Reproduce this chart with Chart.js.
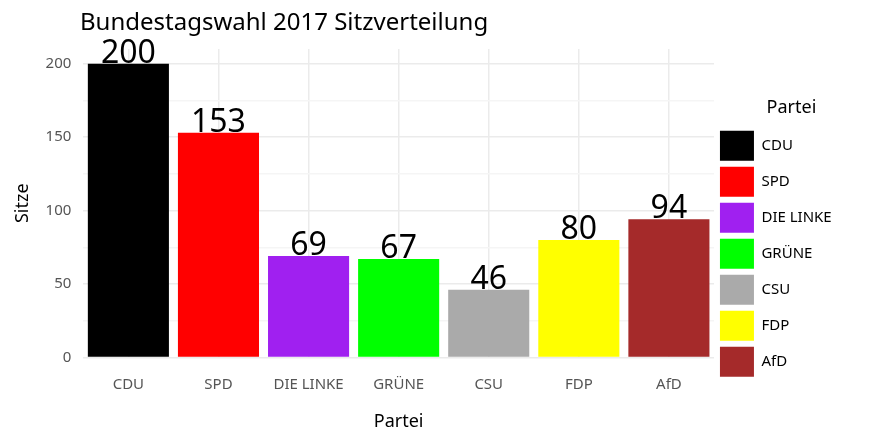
<!DOCTYPE html>
<html><head><meta charset="utf-8">
<script src="https://cdn.jsdelivr.net/npm/chart.js@4"></script>
<style>body{margin:0;background:#fff}#wrap{width:879px;height:439px}</style>
</head><body><div id="wrap"><canvas id="c"></canvas></div>
<script>
// Sitzverteilung
const parties = ["CDU", "SPD", "DIE LINKE", "GRÜNE", "CSU", "FDP", "AfD"];
const seats = [200, 153, 69, 67, 46, 80, 94];
const colors = ["#000000", "#ff0000", "#a020f0", "#00ff00", "#aaaaaa", "#ffff00", "#a52a2a"];

const valueLabels = {
    id: 'valueLabels',
    afterDatasetsDraw(chart) {
        const ctx = chart.ctx;
        const meta = chart.getDatasetMeta(0);
        ctx.save();
        ctx.font = '32px "Noto Sans"';
        ctx.fillStyle = '#000';
        ctx.textAlign = 'center';
        ctx.textBaseline = 'alphabetic';
        meta.data.forEach((bar, i) => {
            ctx.fillText(seats[i], bar.x, bar.y - 1);
        });
        // title, left-aligned like ggplot
        ctx.font = '24px "Noto Sans"';
        ctx.textAlign = 'left';
        ctx.fillText('Bundestagswahl 2017 Sitzverteilung', 80, 30);
        ctx.restore();
    }
};

new Chart(document.getElementById('c'), {
    type: 'bar',
    data: {
        labels: parties,
        datasets: [{ data: seats, backgroundColor: colors, barPercentage: 0.9, categoryPercentage: 1 }]
    },
    options: {
        responsive: true,
        maintainAspectRatio: false,
        animation: false,
        layout: { padding: { top: 49, right: 10, left: 12, bottom: 6 } },
        plugins: {
            title: { display: false },
            tooltip: { enabled: false },
            legend: {
                position: 'right', align: 'center',
                title: { display: true, text: 'Partei', color: '#000', font: { family: 'Noto Sans', size: 18 }, padding: { top: 0, bottom: 4 } },
                labels: {
                    boxWidth: 34, boxHeight: 30, padding: 6, color: '#222',
                    font: { family: 'Noto Sans', size: 15 },
                    generateLabels: () => parties.map((p, i) => ({
                        text: p + '\u00a0\u00a0\u00a0\u00a0\u00a0\u00a0\u00a0', fillStyle: colors[i], strokeStyle: colors[i], lineWidth: 0, index: i
                    }))
                }
            }
        },
        scales: {
            x: {
                grid: { offset: false, color: '#ebebeb', lineWidth: 1.5, drawTicks: false },
                border: { display: false },
                ticks: { color: '#555', font: { family: 'Noto Sans', size: 15 }, padding: 18 },
                title: { display: true, text: 'Partei', color: '#000', font: { family: 'Noto Sans', size: 18 }, padding: 0 }
            },
            y: {
                min: 0, max: 210,
                grid: {
                    color: ctx => (ctx.tick && ctx.tick.value % 50 === 0) ? '#ebebeb' : '#f5f5f5',
                    lineWidth: 1.5, drawTicks: false
                },
                border: { display: false },
                afterBuildTicks: axis => { axis.ticks = [0, 25, 50, 75, 100, 125, 150, 175, 200].map(v => ({ value: v })); },
                ticks: {
                    color: '#555', font: { family: 'Noto Sans', size: 15 }, padding: 12,
                    callback: v => v % 50 === 0 ? v : ''
                },
                title: { display: true, text: 'Sitze', color: '#000', font: { family: 'Noto Sans', size: 18 }, padding: 0 }
            }
        }
    },
    plugins: [valueLabels]
});
</script></body></html>
